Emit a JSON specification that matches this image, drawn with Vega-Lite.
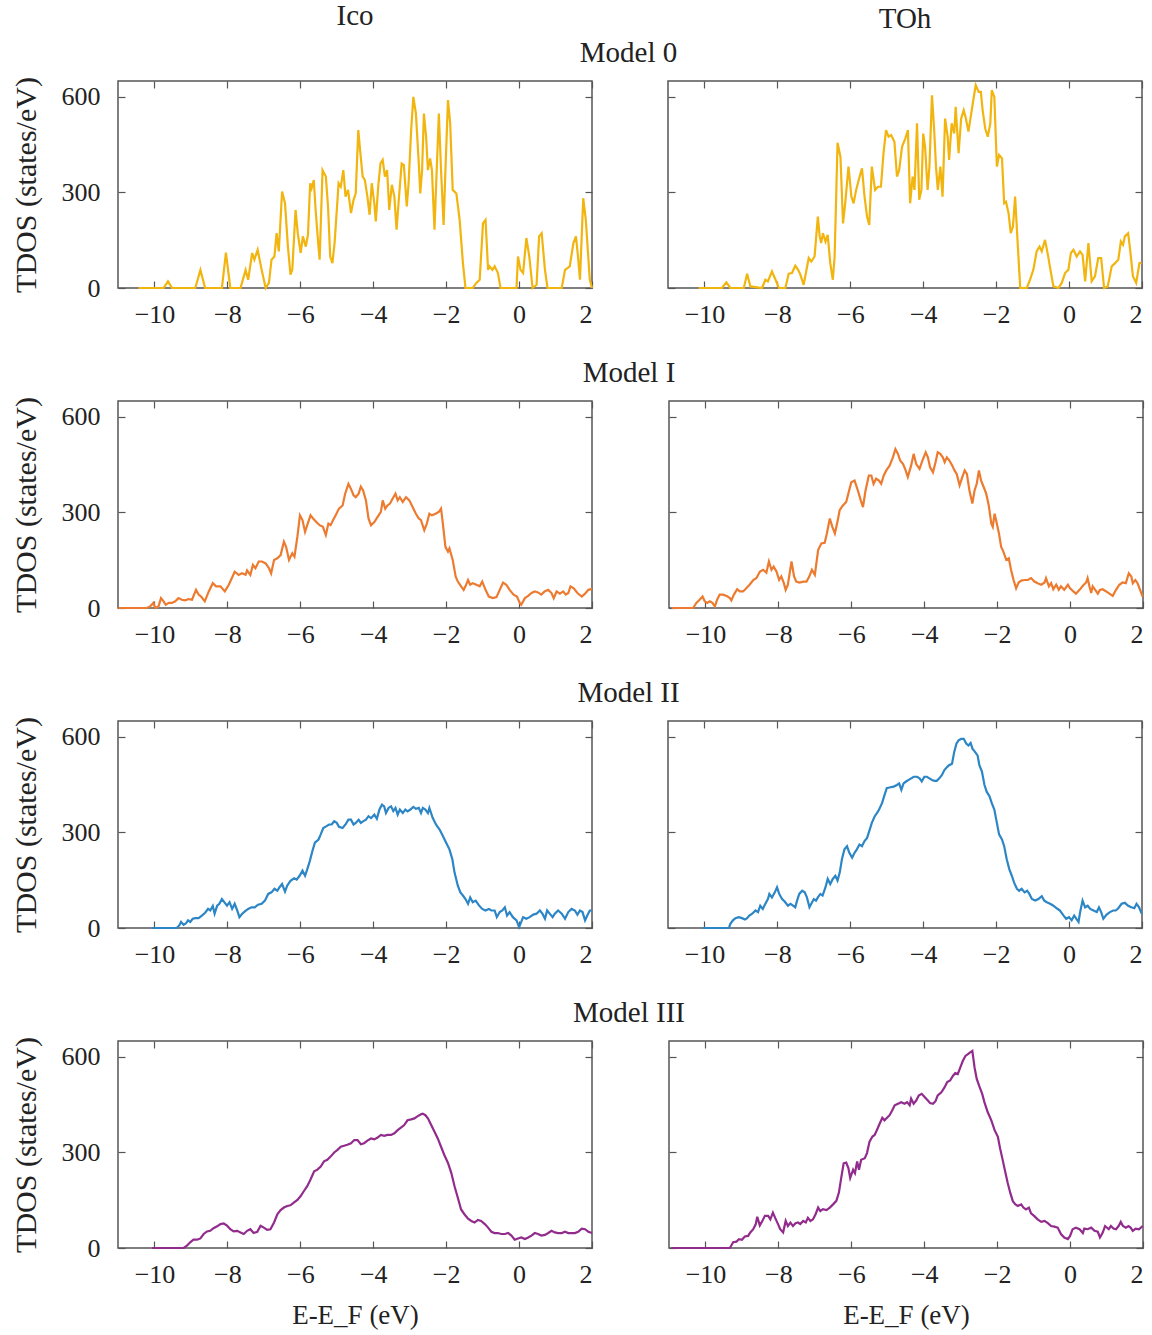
{
  "$schema": "https://vega.github.io/schema/vega-lite/v6.json",
  "padding": {"left": 10, "top": 0, "right": 0, "bottom": 2},
  "background": "white",
  "config": {
    "font": "Liberation Serif",
    "view": {"stroke": "#555555", "strokeWidth": 1.5},
    "axis": {"grid": false, "domain": false, "tickColor": "#555555", "tickWidth": 1.2, "tickSize": -7,
             "labelFont": "Liberation Serif", "labelFontSize": 26, "labelColor": "#222222",
             "titleFont": "Liberation Serif", "titleFontSize": 30, "titleFontWeight": "normal", "titleColor": "#222222"},
    "title": {"font": "Liberation Serif", "fontSize": 29, "fontWeight": "normal", "color": "#222222"},
    "line": {"strokeWidth": 2.2}
  },
  "datasets": {
    "i0": [{"x":-10.44,"y":0},{"x":-9.75,"y":0},{"x":-9.63,"y":21},{"x":-9.52,"y":0},{"x":-8.88,"y":0},{"x":-8.74,"y":57},{"x":-8.61,"y":0},{"x":-8.15,"y":0},{"x":-8.04,"y":111},{"x":-7.92,"y":0},{"x":-7.64,"y":0},{"x":-7.5,"y":57},{"x":-7.43,"y":26},{"x":-7.32,"y":110},{"x":-7.26,"y":89},{"x":-7.17,"y":120},{"x":-7.06,"y":57},{"x":-6.95,"y":0},{"x":-6.86,"y":16},{"x":-6.79,"y":89},{"x":-6.71,"y":99},{"x":-6.65,"y":172},{"x":-6.59,"y":115},{"x":-6.5,"y":303},{"x":-6.42,"y":266},{"x":-6.34,"y":130},{"x":-6.27,"y":42},{"x":-6.22,"y":57},{"x":-6.13,"y":245},{"x":-6.07,"y":172},{"x":-5.99,"y":110},{"x":-5.93,"y":162},{"x":-5.85,"y":130},{"x":-5.79,"y":167},{"x":-5.73,"y":329},{"x":-5.69,"y":313},{"x":-5.63,"y":339},{"x":-5.58,"y":245},{"x":-5.51,"y":141},{"x":-5.47,"y":89},{"x":-5.39,"y":370},{"x":-5.3,"y":350},{"x":-5.24,"y":256},{"x":-5.18,"y":99},{"x":-5.12,"y":78},{"x":-5.06,"y":141},{"x":-4.95,"y":329},{"x":-4.89,"y":318},{"x":-4.82,"y":370},{"x":-4.76,"y":287},{"x":-4.69,"y":308},{"x":-4.61,"y":235},{"x":-4.54,"y":276},{"x":-4.48,"y":297},{"x":-4.41,"y":496},{"x":-4.36,"y":433},{"x":-4.29,"y":350},{"x":-4.23,"y":339},{"x":-4.16,"y":287},{"x":-4.1,"y":230},{"x":-4.04,"y":329},{"x":-3.97,"y":266},{"x":-3.93,"y":209},{"x":-3.86,"y":324},{"x":-3.8,"y":391},{"x":-3.74,"y":402},{"x":-3.68,"y":350},{"x":-3.62,"y":370},{"x":-3.56,"y":245},{"x":-3.49,"y":324},{"x":-3.42,"y":287},{"x":-3.36,"y":183},{"x":-3.3,"y":276},{"x":-3.22,"y":391},{"x":-3.16,"y":386},{"x":-3.08,"y":256},{"x":-3.03,"y":329},{"x":-2.96,"y":496},{"x":-2.9,"y":600},{"x":-2.83,"y":548},{"x":-2.75,"y":391},{"x":-2.71,"y":297},{"x":-2.66,"y":370},{"x":-2.61,"y":548},{"x":-2.55,"y":475},{"x":-2.5,"y":370},{"x":-2.44,"y":407},{"x":-2.39,"y":370},{"x":-2.32,"y":183},{"x":-2.28,"y":308},{"x":-2.2,"y":548},{"x":-2.14,"y":370},{"x":-2.07,"y":198},{"x":-2.02,"y":370},{"x":-1.95,"y":590},{"x":-1.89,"y":517},{"x":-1.82,"y":308},{"x":-1.72,"y":297},{"x":-1.63,"y":214},{"x":-1.54,"y":78},{"x":-1.47,"y":0},{"x":-1.27,"y":0},{"x":-1.17,"y":16},{"x":-1.08,"y":26},{"x":-0.99,"y":203},{"x":-0.92,"y":214},{"x":-0.85,"y":57},{"x":-0.81,"y":68},{"x":-0.73,"y":57},{"x":-0.67,"y":68},{"x":-0.58,"y":47},{"x":-0.51,"y":0},{"x":-0.07,"y":0},{"x":-0.03,"y":99},{"x":0.04,"y":57},{"x":0.11,"y":47},{"x":0.2,"y":157},{"x":0.28,"y":99},{"x":0.37,"y":0},{"x":0.48,"y":10},{"x":0.55,"y":162},{"x":0.62,"y":172},{"x":0.71,"y":57},{"x":0.78,"y":0},{"x":1.17,"y":0},{"x":1.26,"y":57},{"x":1.39,"y":68},{"x":1.49,"y":141},{"x":1.56,"y":162},{"x":1.62,"y":94},{"x":1.67,"y":26},{"x":1.76,"y":282},{"x":1.83,"y":214},{"x":1.94,"y":26},{"x":2.0,"y":0}],
    "t0": [{"x":-10.16,"y":0},{"x":-9.52,"y":0},{"x":-9.4,"y":18},{"x":-9.29,"y":0},{"x":-8.92,"y":0},{"x":-8.83,"y":45},{"x":-8.74,"y":5},{"x":-8.42,"y":0},{"x":-8.33,"y":26},{"x":-8.26,"y":21},{"x":-8.21,"y":35},{"x":-8.15,"y":52},{"x":-8.05,"y":26},{"x":-7.96,"y":0},{"x":-7.78,"y":0},{"x":-7.69,"y":45},{"x":-7.6,"y":47},{"x":-7.51,"y":70},{"x":-7.43,"y":57},{"x":-7.37,"y":42},{"x":-7.28,"y":10},{"x":-7.14,"y":94},{"x":-7.07,"y":83},{"x":-6.98,"y":99},{"x":-6.89,"y":224},{"x":-6.84,"y":162},{"x":-6.8,"y":141},{"x":-6.75,"y":172},{"x":-6.68,"y":146},{"x":-6.62,"y":167},{"x":-6.55,"y":78},{"x":-6.48,"y":26},{"x":-6.43,"y":99},{"x":-6.35,"y":456},{"x":-6.27,"y":412},{"x":-6.2,"y":203},{"x":-6.14,"y":266},{"x":-6.05,"y":381},{"x":-5.97,"y":287},{"x":-5.91,"y":266},{"x":-5.84,"y":308},{"x":-5.77,"y":339},{"x":-5.68,"y":376},{"x":-5.61,"y":287},{"x":-5.54,"y":224},{"x":-5.48,"y":198},{"x":-5.41,"y":381},{"x":-5.32,"y":308},{"x":-5.24,"y":318},{"x":-5.16,"y":318},{"x":-5.09,"y":423},{"x":-5.02,"y":496},{"x":-4.95,"y":475},{"x":-4.88,"y":480},{"x":-4.79,"y":459},{"x":-4.72,"y":350},{"x":-4.66,"y":370},{"x":-4.58,"y":444},{"x":-4.49,"y":470},{"x":-4.42,"y":496},{"x":-4.36,"y":266},{"x":-4.29,"y":350},{"x":-4.24,"y":308},{"x":-4.17,"y":517},{"x":-4.11,"y":277},{"x":-4.05,"y":308},{"x":-4.0,"y":485},{"x":-3.95,"y":444},{"x":-3.88,"y":308},{"x":-3.83,"y":381},{"x":-3.76,"y":605},{"x":-3.7,"y":496},{"x":-3.65,"y":381},{"x":-3.6,"y":308},{"x":-3.53,"y":381},{"x":-3.47,"y":287},{"x":-3.4,"y":532},{"x":-3.33,"y":475},{"x":-3.29,"y":402},{"x":-3.22,"y":517},{"x":-3.15,"y":485},{"x":-3.11,"y":569},{"x":-3.03,"y":423},{"x":-2.96,"y":532},{"x":-2.89,"y":558},{"x":-2.83,"y":532},{"x":-2.76,"y":491},{"x":-2.69,"y":543},{"x":-2.62,"y":595},{"x":-2.56,"y":637},{"x":-2.48,"y":616},{"x":-2.42,"y":616},{"x":-2.37,"y":558},{"x":-2.3,"y":501},{"x":-2.23,"y":475},{"x":-2.16,"y":517},{"x":-2.12,"y":621},{"x":-2.05,"y":600},{"x":-1.98,"y":381},{"x":-1.92,"y":418},{"x":-1.84,"y":407},{"x":-1.78,"y":266},{"x":-1.73,"y":271},{"x":-1.66,"y":235},{"x":-1.6,"y":172},{"x":-1.54,"y":193},{"x":-1.48,"y":287},{"x":-1.41,"y":141},{"x":-1.34,"y":0},{"x":-1.16,"y":0},{"x":-1.07,"y":26},{"x":-0.98,"y":57},{"x":-0.89,"y":115},{"x":-0.81,"y":130},{"x":-0.75,"y":115},{"x":-0.66,"y":151},{"x":-0.58,"y":104},{"x":-0.52,"y":63},{"x":-0.43,"y":5},{"x":-0.29,"y":0},{"x":-0.2,"y":16},{"x":-0.11,"y":47},{"x":-0.02,"y":57},{"x":0.05,"y":110},{"x":0.12,"y":120},{"x":0.21,"y":99},{"x":0.3,"y":115},{"x":0.37,"y":104},{"x":0.44,"y":21},{"x":0.53,"y":141},{"x":0.62,"y":21},{"x":0.71,"y":37},{"x":0.8,"y":94},{"x":0.88,"y":94},{"x":0.96,"y":0},{"x":1.06,"y":5},{"x":1.17,"y":68},{"x":1.26,"y":78},{"x":1.35,"y":89},{"x":1.42,"y":146},{"x":1.48,"y":136},{"x":1.53,"y":162},{"x":1.62,"y":172},{"x":1.68,"y":115},{"x":1.75,"y":37},{"x":1.84,"y":16},{"x":1.93,"y":78},{"x":1.99,"y":80}],
    "i1": [{"x":-10.99,"y":0},{"x":-10.21,"y":0},{"x":-10.12,"y":5},{"x":-10.03,"y":16},{"x":-9.98,"y":0},{"x":-9.89,"y":5},{"x":-9.82,"y":31},{"x":-9.75,"y":21},{"x":-9.69,"y":10},{"x":-9.61,"y":16},{"x":-9.52,"y":16},{"x":-9.43,"y":21},{"x":-9.34,"y":31},{"x":-9.25,"y":26},{"x":-9.16,"y":24},{"x":-9.06,"y":28},{"x":-8.97,"y":26},{"x":-8.86,"y":57},{"x":-8.79,"y":42},{"x":-8.72,"y":36},{"x":-8.62,"y":21},{"x":-8.51,"y":52},{"x":-8.4,"y":78},{"x":-8.31,"y":68},{"x":-8.19,"y":68},{"x":-8.07,"y":52},{"x":-7.96,"y":73},{"x":-7.8,"y":114},{"x":-7.69,"y":104},{"x":-7.6,"y":109},{"x":-7.5,"y":104},{"x":-7.46,"y":118},{"x":-7.37,"y":104},{"x":-7.3,"y":135},{"x":-7.23,"y":125},{"x":-7.14,"y":146},{"x":-7.05,"y":146},{"x":-6.95,"y":140},{"x":-6.86,"y":125},{"x":-6.8,"y":109},{"x":-6.72,"y":151},{"x":-6.63,"y":156},{"x":-6.54,"y":166},{"x":-6.45,"y":208},{"x":-6.39,"y":192},{"x":-6.31,"y":151},{"x":-6.22,"y":172},{"x":-6.16,"y":161},{"x":-6.08,"y":224},{"x":-6.01,"y":291},{"x":-5.94,"y":276},{"x":-5.87,"y":239},{"x":-5.81,"y":260},{"x":-5.72,"y":291},{"x":-5.65,"y":281},{"x":-5.56,"y":270},{"x":-5.47,"y":260},{"x":-5.38,"y":255},{"x":-5.3,"y":229},{"x":-5.23,"y":265},{"x":-5.17,"y":260},{"x":-5.1,"y":276},{"x":-5.03,"y":291},{"x":-4.94,"y":312},{"x":-4.84,"y":322},{"x":-4.77,"y":359},{"x":-4.68,"y":390},{"x":-4.61,"y":374},{"x":-4.54,"y":354},{"x":-4.48,"y":348},{"x":-4.4,"y":359},{"x":-4.34,"y":381},{"x":-4.28,"y":370},{"x":-4.2,"y":338},{"x":-4.13,"y":281},{"x":-4.06,"y":260},{"x":-3.97,"y":270},{"x":-3.88,"y":286},{"x":-3.79,"y":302},{"x":-3.74,"y":338},{"x":-3.67,"y":312},{"x":-3.61,"y":322},{"x":-3.54,"y":328},{"x":-3.47,"y":343},{"x":-3.39,"y":359},{"x":-3.33,"y":338},{"x":-3.27,"y":348},{"x":-3.19,"y":333},{"x":-3.1,"y":348},{"x":-3.01,"y":338},{"x":-2.92,"y":317},{"x":-2.83,"y":296},{"x":-2.75,"y":281},{"x":-2.69,"y":276},{"x":-2.6,"y":244},{"x":-2.53,"y":265},{"x":-2.46,"y":296},{"x":-2.39,"y":291},{"x":-2.29,"y":296},{"x":-2.2,"y":302},{"x":-2.14,"y":312},{"x":-2.09,"y":265},{"x":-2.02,"y":192},{"x":-1.95,"y":177},{"x":-1.91,"y":187},{"x":-1.82,"y":151},{"x":-1.74,"y":99},{"x":-1.68,"y":83},{"x":-1.59,"y":68},{"x":-1.52,"y":57},{"x":-1.47,"y":68},{"x":-1.4,"y":88},{"x":-1.34,"y":73},{"x":-1.27,"y":78},{"x":-1.17,"y":73},{"x":-1.08,"y":68},{"x":-1.01,"y":83},{"x":-0.92,"y":57},{"x":-0.83,"y":36},{"x":-0.72,"y":31},{"x":-0.62,"y":34},{"x":-0.53,"y":57},{"x":-0.44,"y":80},{"x":-0.35,"y":73},{"x":-0.26,"y":57},{"x":-0.15,"y":42},{"x":-0.06,"y":36},{"x":0.02,"y":16},{"x":0.06,"y":10},{"x":0.16,"y":31},{"x":0.25,"y":38},{"x":0.34,"y":47},{"x":0.43,"y":52},{"x":0.52,"y":49},{"x":0.61,"y":42},{"x":0.7,"y":52},{"x":0.8,"y":57},{"x":0.89,"y":47},{"x":0.95,"y":31},{"x":1.03,"y":52},{"x":1.12,"y":45},{"x":1.21,"y":52},{"x":1.28,"y":42},{"x":1.35,"y":47},{"x":1.41,"y":68},{"x":1.5,"y":62},{"x":1.6,"y":47},{"x":1.72,"y":36},{"x":1.81,"y":45},{"x":1.9,"y":57},{"x":2.0,"y":60}],
    "t1": [{"x":-10.93,"y":0},{"x":-10.34,"y":0},{"x":-10.25,"y":16},{"x":-10.16,"y":26},{"x":-10.08,"y":36},{"x":-10.02,"y":21},{"x":-9.95,"y":16},{"x":-9.88,"y":21},{"x":-9.81,"y":16},{"x":-9.74,"y":5},{"x":-9.68,"y":26},{"x":-9.61,"y":42},{"x":-9.52,"y":42},{"x":-9.42,"y":38},{"x":-9.33,"y":31},{"x":-9.29,"y":24},{"x":-9.22,"y":42},{"x":-9.13,"y":59},{"x":-9.06,"y":52},{"x":-8.97,"y":52},{"x":-8.88,"y":62},{"x":-8.79,"y":73},{"x":-8.69,"y":88},{"x":-8.6,"y":94},{"x":-8.51,"y":114},{"x":-8.42,"y":120},{"x":-8.33,"y":111},{"x":-8.26,"y":146},{"x":-8.19,"y":120},{"x":-8.13,"y":130},{"x":-8.05,"y":114},{"x":-7.98,"y":88},{"x":-7.92,"y":99},{"x":-7.85,"y":78},{"x":-7.8,"y":57},{"x":-7.74,"y":73},{"x":-7.64,"y":146},{"x":-7.57,"y":99},{"x":-7.51,"y":83},{"x":-7.42,"y":80},{"x":-7.32,"y":83},{"x":-7.23,"y":83},{"x":-7.16,"y":97},{"x":-7.08,"y":120},{"x":-7.0,"y":104},{"x":-6.91,"y":182},{"x":-6.82,"y":203},{"x":-6.73,"y":205},{"x":-6.67,"y":234},{"x":-6.59,"y":281},{"x":-6.52,"y":255},{"x":-6.45,"y":234},{"x":-6.37,"y":276},{"x":-6.32,"y":307},{"x":-6.23,"y":322},{"x":-6.14,"y":333},{"x":-6.06,"y":369},{"x":-6.0,"y":395},{"x":-5.91,"y":400},{"x":-5.82,"y":369},{"x":-5.74,"y":338},{"x":-5.68,"y":317},{"x":-5.61,"y":369},{"x":-5.52,"y":416},{"x":-5.45,"y":416},{"x":-5.39,"y":390},{"x":-5.32,"y":406},{"x":-5.24,"y":400},{"x":-5.18,"y":390},{"x":-5.11,"y":416},{"x":-5.04,"y":432},{"x":-4.95,"y":447},{"x":-4.86,"y":473},{"x":-4.79,"y":499},{"x":-4.72,"y":484},{"x":-4.66,"y":463},{"x":-4.58,"y":452},{"x":-4.51,"y":432},{"x":-4.45,"y":411},{"x":-4.36,"y":447},{"x":-4.29,"y":484},{"x":-4.22,"y":452},{"x":-4.13,"y":437},{"x":-4.05,"y":463},{"x":-3.96,"y":489},{"x":-3.9,"y":473},{"x":-3.84,"y":442},{"x":-3.76,"y":426},{"x":-3.69,"y":458},{"x":-3.63,"y":489},{"x":-3.56,"y":484},{"x":-3.49,"y":473},{"x":-3.44,"y":458},{"x":-3.38,"y":473},{"x":-3.31,"y":463},{"x":-3.23,"y":447},{"x":-3.17,"y":432},{"x":-3.11,"y":421},{"x":-3.03,"y":385},{"x":-2.97,"y":406},{"x":-2.89,"y":432},{"x":-2.83,"y":421},{"x":-2.76,"y":369},{"x":-2.68,"y":328},{"x":-2.62,"y":369},{"x":-2.56,"y":390},{"x":-2.5,"y":432},{"x":-2.44,"y":400},{"x":-2.37,"y":380},{"x":-2.3,"y":359},{"x":-2.23,"y":322},{"x":-2.16,"y":265},{"x":-2.12,"y":255},{"x":-2.07,"y":296},{"x":-2.03,"y":276},{"x":-1.95,"y":234},{"x":-1.89,"y":192},{"x":-1.83,"y":177},{"x":-1.75,"y":151},{"x":-1.68,"y":156},{"x":-1.62,"y":120},{"x":-1.55,"y":88},{"x":-1.48,"y":62},{"x":-1.41,"y":80},{"x":-1.34,"y":86},{"x":-1.25,"y":88},{"x":-1.16,"y":88},{"x":-1.07,"y":94},{"x":-0.98,"y":83},{"x":-0.89,"y":78},{"x":-0.79,"y":73},{"x":-0.7,"y":80},{"x":-0.66,"y":94},{"x":-0.58,"y":68},{"x":-0.52,"y":78},{"x":-0.46,"y":59},{"x":-0.38,"y":73},{"x":-0.31,"y":57},{"x":-0.25,"y":68},{"x":-0.16,"y":57},{"x":-0.06,"y":73},{"x":0.0,"y":62},{"x":0.09,"y":52},{"x":0.16,"y":45},{"x":0.26,"y":57},{"x":0.35,"y":70},{"x":0.44,"y":80},{"x":0.48,"y":94},{"x":0.53,"y":68},{"x":0.58,"y":47},{"x":0.62,"y":68},{"x":0.69,"y":57},{"x":0.76,"y":45},{"x":0.82,"y":57},{"x":0.89,"y":59},{"x":0.99,"y":52},{"x":1.08,"y":45},{"x":1.17,"y":38},{"x":1.26,"y":57},{"x":1.35,"y":73},{"x":1.44,"y":80},{"x":1.53,"y":78},{"x":1.61,"y":109},{"x":1.68,"y":99},{"x":1.72,"y":78},{"x":1.79,"y":88},{"x":1.85,"y":78},{"x":1.92,"y":57},{"x":1.99,"y":36}],
    "i2": [{"x":-10.07,"y":0},{"x":-9.39,"y":0},{"x":-9.32,"y":8},{"x":-9.27,"y":19},{"x":-9.2,"y":10},{"x":-9.14,"y":14},{"x":-9.08,"y":24},{"x":-9.02,"y":19},{"x":-8.95,"y":29},{"x":-8.88,"y":31},{"x":-8.79,"y":31},{"x":-8.7,"y":39},{"x":-8.61,"y":48},{"x":-8.53,"y":60},{"x":-8.47,"y":55},{"x":-8.4,"y":69},{"x":-8.35,"y":45},{"x":-8.28,"y":70},{"x":-8.22,"y":76},{"x":-8.15,"y":91},{"x":-8.07,"y":79},{"x":-8.01,"y":70},{"x":-7.94,"y":81},{"x":-7.87,"y":60},{"x":-7.8,"y":76},{"x":-7.73,"y":55},{"x":-7.67,"y":34},{"x":-7.6,"y":44},{"x":-7.52,"y":52},{"x":-7.43,"y":60},{"x":-7.34,"y":65},{"x":-7.25,"y":65},{"x":-7.16,"y":73},{"x":-7.06,"y":76},{"x":-6.97,"y":86},{"x":-6.88,"y":107},{"x":-6.79,"y":112},{"x":-6.71,"y":123},{"x":-6.63,"y":117},{"x":-6.57,"y":128},{"x":-6.5,"y":138},{"x":-6.42,"y":114},{"x":-6.36,"y":133},{"x":-6.27,"y":148},{"x":-6.17,"y":156},{"x":-6.1,"y":152},{"x":-6.02,"y":164},{"x":-5.94,"y":180},{"x":-5.87,"y":164},{"x":-5.81,"y":184},{"x":-5.74,"y":210},{"x":-5.67,"y":241},{"x":-5.6,"y":268},{"x":-5.5,"y":278},{"x":-5.44,"y":294},{"x":-5.37,"y":314},{"x":-5.28,"y":320},{"x":-5.21,"y":325},{"x":-5.14,"y":325},{"x":-5.07,"y":335},{"x":-5.0,"y":330},{"x":-4.94,"y":318},{"x":-4.84,"y":314},{"x":-4.75,"y":327},{"x":-4.68,"y":340},{"x":-4.61,"y":340},{"x":-4.54,"y":325},{"x":-4.48,"y":330},{"x":-4.4,"y":340},{"x":-4.34,"y":330},{"x":-4.28,"y":335},{"x":-4.2,"y":340},{"x":-4.13,"y":351},{"x":-4.06,"y":345},{"x":-3.97,"y":356},{"x":-3.9,"y":343},{"x":-3.83,"y":372},{"x":-3.76,"y":387},{"x":-3.7,"y":382},{"x":-3.65,"y":361},{"x":-3.58,"y":377},{"x":-3.51,"y":382},{"x":-3.45,"y":367},{"x":-3.39,"y":377},{"x":-3.33,"y":356},{"x":-3.27,"y":372},{"x":-3.19,"y":361},{"x":-3.12,"y":372},{"x":-3.06,"y":366},{"x":-2.98,"y":372},{"x":-2.9,"y":380},{"x":-2.83,"y":374},{"x":-2.75,"y":377},{"x":-2.69,"y":361},{"x":-2.64,"y":377},{"x":-2.57,"y":372},{"x":-2.5,"y":361},{"x":-2.46,"y":377},{"x":-2.37,"y":346},{"x":-2.28,"y":325},{"x":-2.18,"y":309},{"x":-2.09,"y":289},{"x":-2.0,"y":268},{"x":-1.91,"y":247},{"x":-1.83,"y":216},{"x":-1.77,"y":174},{"x":-1.68,"y":133},{"x":-1.61,"y":112},{"x":-1.54,"y":102},{"x":-1.47,"y":91},{"x":-1.4,"y":76},{"x":-1.34,"y":96},{"x":-1.27,"y":81},{"x":-1.19,"y":86},{"x":-1.1,"y":71},{"x":-1.01,"y":60},{"x":-0.92,"y":55},{"x":-0.83,"y":60},{"x":-0.76,"y":55},{"x":-0.67,"y":55},{"x":-0.61,"y":34},{"x":-0.53,"y":50},{"x":-0.46,"y":55},{"x":-0.39,"y":65},{"x":-0.33,"y":39},{"x":-0.26,"y":50},{"x":-0.17,"y":34},{"x":-0.07,"y":24},{"x":0.0,"y":3},{"x":0.06,"y":19},{"x":0.11,"y":34},{"x":0.2,"y":29},{"x":0.29,"y":34},{"x":0.39,"y":42},{"x":0.48,"y":45},{"x":0.57,"y":55},{"x":0.64,"y":45},{"x":0.71,"y":29},{"x":0.77,"y":55},{"x":0.84,"y":45},{"x":0.92,"y":34},{"x":0.98,"y":45},{"x":1.07,"y":55},{"x":1.17,"y":45},{"x":1.26,"y":29},{"x":1.35,"y":50},{"x":1.44,"y":60},{"x":1.53,"y":55},{"x":1.6,"y":42},{"x":1.67,"y":55},{"x":1.74,"y":50},{"x":1.81,"y":24},{"x":1.87,"y":39},{"x":1.94,"y":55},{"x":2.0,"y":55}],
    "t2": [{"x":-10.06,"y":0},{"x":-9.33,"y":0},{"x":-9.29,"y":13},{"x":-9.22,"y":24},{"x":-9.15,"y":31},{"x":-9.06,"y":34},{"x":-8.97,"y":31},{"x":-8.89,"y":27},{"x":-8.83,"y":31},{"x":-8.77,"y":39},{"x":-8.69,"y":45},{"x":-8.6,"y":55},{"x":-8.53,"y":50},{"x":-8.47,"y":70},{"x":-8.4,"y":60},{"x":-8.33,"y":76},{"x":-8.26,"y":91},{"x":-8.22,"y":107},{"x":-8.15,"y":96},{"x":-8.07,"y":112},{"x":-8.01,"y":128},{"x":-7.95,"y":107},{"x":-7.87,"y":91},{"x":-7.8,"y":83},{"x":-7.71,"y":70},{"x":-7.64,"y":76},{"x":-7.57,"y":70},{"x":-7.51,"y":65},{"x":-7.46,"y":86},{"x":-7.4,"y":107},{"x":-7.32,"y":117},{"x":-7.25,"y":112},{"x":-7.19,"y":96},{"x":-7.12,"y":65},{"x":-7.07,"y":76},{"x":-7.0,"y":91},{"x":-6.94,"y":86},{"x":-6.89,"y":96},{"x":-6.82,"y":107},{"x":-6.76,"y":102},{"x":-6.68,"y":128},{"x":-6.62,"y":154},{"x":-6.55,"y":138},{"x":-6.48,"y":154},{"x":-6.41,"y":164},{"x":-6.35,"y":149},{"x":-6.29,"y":174},{"x":-6.23,"y":216},{"x":-6.16,"y":247},{"x":-6.09,"y":257},{"x":-6.03,"y":237},{"x":-5.95,"y":221},{"x":-5.88,"y":237},{"x":-5.82,"y":247},{"x":-5.75,"y":262},{"x":-5.68,"y":257},{"x":-5.61,"y":273},{"x":-5.54,"y":283},{"x":-5.48,"y":304},{"x":-5.41,"y":330},{"x":-5.33,"y":351},{"x":-5.27,"y":361},{"x":-5.21,"y":372},{"x":-5.13,"y":392},{"x":-5.06,"y":418},{"x":-5.0,"y":439},{"x":-4.9,"y":442},{"x":-4.81,"y":444},{"x":-4.72,"y":449},{"x":-4.66,"y":454},{"x":-4.6,"y":434},{"x":-4.54,"y":454},{"x":-4.47,"y":460},{"x":-4.4,"y":465},{"x":-4.33,"y":470},{"x":-4.26,"y":475},{"x":-4.17,"y":475},{"x":-4.1,"y":470},{"x":-4.04,"y":460},{"x":-3.97,"y":475},{"x":-3.9,"y":475},{"x":-3.83,"y":470},{"x":-3.76,"y":465},{"x":-3.69,"y":462},{"x":-3.63,"y":462},{"x":-3.56,"y":470},{"x":-3.49,"y":480},{"x":-3.42,"y":496},{"x":-3.34,"y":506},{"x":-3.29,"y":511},{"x":-3.21,"y":516},{"x":-3.15,"y":553},{"x":-3.09,"y":579},{"x":-3.03,"y":589},{"x":-2.96,"y":594},{"x":-2.89,"y":594},{"x":-2.82,"y":579},{"x":-2.76,"y":573},{"x":-2.7,"y":581},{"x":-2.65,"y":563},{"x":-2.58,"y":553},{"x":-2.51,"y":542},{"x":-2.46,"y":511},{"x":-2.39,"y":491},{"x":-2.32,"y":449},{"x":-2.26,"y":428},{"x":-2.18,"y":413},{"x":-2.12,"y":392},{"x":-2.05,"y":372},{"x":-1.98,"y":330},{"x":-1.92,"y":294},{"x":-1.84,"y":278},{"x":-1.78,"y":257},{"x":-1.71,"y":216},{"x":-1.64,"y":185},{"x":-1.57,"y":164},{"x":-1.51,"y":143},{"x":-1.43,"y":123},{"x":-1.37,"y":117},{"x":-1.3,"y":123},{"x":-1.22,"y":112},{"x":-1.15,"y":117},{"x":-1.09,"y":107},{"x":-1.02,"y":91},{"x":-0.93,"y":86},{"x":-0.84,"y":91},{"x":-0.75,"y":100},{"x":-0.68,"y":86},{"x":-0.61,"y":81},{"x":-0.52,"y":76},{"x":-0.43,"y":70},{"x":-0.34,"y":62},{"x":-0.25,"y":55},{"x":-0.15,"y":39},{"x":-0.08,"y":29},{"x":0.0,"y":34},{"x":0.07,"y":24},{"x":0.14,"y":39},{"x":0.21,"y":27},{"x":0.26,"y":19},{"x":0.3,"y":48},{"x":0.37,"y":86},{"x":0.44,"y":65},{"x":0.51,"y":70},{"x":0.58,"y":60},{"x":0.67,"y":55},{"x":0.76,"y":50},{"x":0.82,"y":65},{"x":0.88,"y":50},{"x":0.94,"y":29},{"x":1.03,"y":42},{"x":1.12,"y":50},{"x":1.21,"y":55},{"x":1.28,"y":55},{"x":1.35,"y":62},{"x":1.44,"y":76},{"x":1.53,"y":79},{"x":1.62,"y":70},{"x":1.71,"y":65},{"x":1.79,"y":62},{"x":1.85,"y":76},{"x":1.92,"y":65},{"x":1.99,"y":45}],
    "i3": [{"x":-10.07,"y":0},{"x":-9.2,"y":0},{"x":-9.11,"y":7},{"x":-9.02,"y":18},{"x":-8.93,"y":26},{"x":-8.83,"y":26},{"x":-8.74,"y":30},{"x":-8.65,"y":44},{"x":-8.56,"y":52},{"x":-8.47,"y":54},{"x":-8.38,"y":62},{"x":-8.28,"y":68},{"x":-8.19,"y":75},{"x":-8.1,"y":77},{"x":-8.01,"y":70},{"x":-7.92,"y":59},{"x":-7.83,"y":52},{"x":-7.73,"y":54},{"x":-7.64,"y":49},{"x":-7.55,"y":44},{"x":-7.46,"y":54},{"x":-7.37,"y":59},{"x":-7.28,"y":47},{"x":-7.18,"y":51},{"x":-7.09,"y":70},{"x":-7.0,"y":64},{"x":-6.91,"y":57},{"x":-6.82,"y":59},{"x":-6.72,"y":80},{"x":-6.63,"y":106},{"x":-6.54,"y":119},{"x":-6.45,"y":127},{"x":-6.36,"y":132},{"x":-6.27,"y":134},{"x":-6.17,"y":143},{"x":-6.08,"y":151},{"x":-5.99,"y":163},{"x":-5.9,"y":179},{"x":-5.81,"y":194},{"x":-5.72,"y":215},{"x":-5.62,"y":241},{"x":-5.53,"y":246},{"x":-5.44,"y":256},{"x":-5.35,"y":272},{"x":-5.26,"y":277},{"x":-5.17,"y":287},{"x":-5.07,"y":300},{"x":-4.98,"y":308},{"x":-4.89,"y":318},{"x":-4.8,"y":321},{"x":-4.71,"y":324},{"x":-4.61,"y":329},{"x":-4.52,"y":339},{"x":-4.43,"y":339},{"x":-4.34,"y":326},{"x":-4.25,"y":329},{"x":-4.16,"y":337},{"x":-4.06,"y":344},{"x":-3.97,"y":341},{"x":-3.88,"y":347},{"x":-3.79,"y":355},{"x":-3.7,"y":352},{"x":-3.61,"y":355},{"x":-3.51,"y":355},{"x":-3.42,"y":360},{"x":-3.33,"y":370},{"x":-3.24,"y":378},{"x":-3.15,"y":386},{"x":-3.06,"y":401},{"x":-2.96,"y":404},{"x":-2.87,"y":407},{"x":-2.78,"y":414},{"x":-2.69,"y":420},{"x":-2.64,"y":422},{"x":-2.57,"y":417},{"x":-2.5,"y":407},{"x":-2.41,"y":386},{"x":-2.32,"y":365},{"x":-2.23,"y":344},{"x":-2.14,"y":318},{"x":-2.05,"y":292},{"x":-1.95,"y":267},{"x":-1.86,"y":236},{"x":-1.77,"y":194},{"x":-1.68,"y":158},{"x":-1.59,"y":121},{"x":-1.5,"y":106},{"x":-1.4,"y":92},{"x":-1.31,"y":85},{"x":-1.22,"y":80},{"x":-1.13,"y":88},{"x":-1.04,"y":85},{"x":-0.94,"y":75},{"x":-0.85,"y":64},{"x":-0.76,"y":51},{"x":-0.67,"y":47},{"x":-0.58,"y":47},{"x":-0.49,"y":44},{"x":-0.39,"y":44},{"x":-0.3,"y":47},{"x":-0.21,"y":39},{"x":-0.12,"y":26},{"x":-0.03,"y":30},{"x":0.06,"y":33},{"x":0.16,"y":28},{"x":0.25,"y":33},{"x":0.34,"y":39},{"x":0.43,"y":47},{"x":0.52,"y":44},{"x":0.61,"y":39},{"x":0.71,"y":41},{"x":0.8,"y":47},{"x":0.89,"y":54},{"x":0.98,"y":49},{"x":1.07,"y":47},{"x":1.17,"y":47},{"x":1.26,"y":51},{"x":1.35,"y":47},{"x":1.44,"y":47},{"x":1.53,"y":47},{"x":1.62,"y":51},{"x":1.72,"y":61},{"x":1.81,"y":59},{"x":1.9,"y":51},{"x":2.0,"y":47}],
    "t3": [{"x":-10.93,"y":0},{"x":-9.33,"y":0},{"x":-9.24,"y":18},{"x":-9.15,"y":20},{"x":-9.08,"y":28},{"x":-9.0,"y":26},{"x":-8.92,"y":36},{"x":-8.83,"y":38},{"x":-8.77,"y":49},{"x":-8.69,"y":59},{"x":-8.62,"y":75},{"x":-8.58,"y":98},{"x":-8.51,"y":71},{"x":-8.44,"y":85},{"x":-8.37,"y":101},{"x":-8.28,"y":101},{"x":-8.22,"y":90},{"x":-8.15,"y":111},{"x":-8.07,"y":90},{"x":-8.01,"y":75},{"x":-7.95,"y":59},{"x":-7.87,"y":49},{"x":-7.8,"y":85},{"x":-7.74,"y":69},{"x":-7.67,"y":80},{"x":-7.6,"y":69},{"x":-7.53,"y":78},{"x":-7.46,"y":80},{"x":-7.4,"y":75},{"x":-7.32,"y":85},{"x":-7.25,"y":80},{"x":-7.19,"y":95},{"x":-7.12,"y":85},{"x":-7.05,"y":90},{"x":-6.98,"y":106},{"x":-6.91,"y":127},{"x":-6.85,"y":116},{"x":-6.78,"y":122},{"x":-6.68,"y":119},{"x":-6.59,"y":127},{"x":-6.5,"y":137},{"x":-6.41,"y":148},{"x":-6.34,"y":174},{"x":-6.27,"y":225},{"x":-6.21,"y":266},{"x":-6.14,"y":268},{"x":-6.08,"y":251},{"x":-6.03,"y":220},{"x":-5.95,"y":246},{"x":-5.9,"y":235},{"x":-5.84,"y":272},{"x":-5.79,"y":246},{"x":-5.73,"y":277},{"x":-5.63,"y":282},{"x":-5.57,"y":298},{"x":-5.5,"y":334},{"x":-5.42,"y":350},{"x":-5.36,"y":355},{"x":-5.3,"y":370},{"x":-5.22,"y":391},{"x":-5.15,"y":409},{"x":-5.09,"y":401},{"x":-5.02,"y":409},{"x":-4.95,"y":417},{"x":-4.88,"y":432},{"x":-4.81,"y":448},{"x":-4.72,"y":453},{"x":-4.63,"y":458},{"x":-4.54,"y":453},{"x":-4.47,"y":458},{"x":-4.4,"y":448},{"x":-4.36,"y":469},{"x":-4.29,"y":453},{"x":-4.22,"y":463},{"x":-4.15,"y":479},{"x":-4.07,"y":484},{"x":-3.99,"y":474},{"x":-3.9,"y":463},{"x":-3.84,"y":455},{"x":-3.76,"y":453},{"x":-3.69,"y":461},{"x":-3.63,"y":479},{"x":-3.53,"y":489},{"x":-3.44,"y":505},{"x":-3.37,"y":521},{"x":-3.29,"y":526},{"x":-3.21,"y":541},{"x":-3.15,"y":549},{"x":-3.08,"y":546},{"x":-3.01,"y":567},{"x":-2.94,"y":588},{"x":-2.87,"y":603},{"x":-2.8,"y":609},{"x":-2.74,"y":614},{"x":-2.68,"y":619},{"x":-2.62,"y":567},{"x":-2.56,"y":531},{"x":-2.48,"y":505},{"x":-2.41,"y":484},{"x":-2.35,"y":458},{"x":-2.26,"y":427},{"x":-2.16,"y":401},{"x":-2.07,"y":370},{"x":-1.98,"y":349},{"x":-1.92,"y":313},{"x":-1.84,"y":272},{"x":-1.77,"y":235},{"x":-1.71,"y":204},{"x":-1.64,"y":173},{"x":-1.57,"y":147},{"x":-1.5,"y":137},{"x":-1.43,"y":132},{"x":-1.34,"y":137},{"x":-1.28,"y":127},{"x":-1.21,"y":121},{"x":-1.13,"y":127},{"x":-1.07,"y":109},{"x":-0.98,"y":100},{"x":-0.89,"y":90},{"x":-0.79,"y":82},{"x":-0.7,"y":85},{"x":-0.61,"y":78},{"x":-0.52,"y":69},{"x":-0.43,"y":67},{"x":-0.34,"y":64},{"x":-0.25,"y":44},{"x":-0.16,"y":33},{"x":-0.06,"y":28},{"x":0.0,"y":38},{"x":0.07,"y":59},{"x":0.16,"y":64},{"x":0.26,"y":59},{"x":0.35,"y":47},{"x":0.39,"y":61},{"x":0.48,"y":59},{"x":0.58,"y":64},{"x":0.67,"y":54},{"x":0.76,"y":51},{"x":0.82,"y":33},{"x":0.89,"y":47},{"x":0.96,"y":69},{"x":1.06,"y":59},{"x":1.12,"y":69},{"x":1.19,"y":61},{"x":1.26,"y":59},{"x":1.33,"y":69},{"x":1.39,"y":82},{"x":1.45,"y":69},{"x":1.53,"y":64},{"x":1.6,"y":69},{"x":1.66,"y":64},{"x":1.72,"y":54},{"x":1.8,"y":61},{"x":1.89,"y":59},{"x":1.99,"y":69}]
  },
  "spacing": 30,
  "vconcat": [
    {
      "title": {"text": "Model 0", "anchor": "middle", "offset": -67, "dx": 50},
      "spacing": 68,
      "hconcat": [
        {"width": 474, "height": 207, "data": {"name": "i0"}, "title": {"text": "Ico", "anchor": "middle", "offset": 46},
         "resolve": {"axis": {"x": "independent", "y": "independent"}},
         "layer": [
           {"mark": {"type": "line", "color": "#F2B50F"},
            "encoding": {"x": {"field": "x", "type": "quantitative", "scale": {"domain": [-11, 2], "nice": false, "zero": false}, "axis": {"orient": "bottom", "values": [-10, -8, -6, -4, -2, 0, 2], "title": null, "labelPadding": 20}},
                         "y": {"field": "y", "type": "quantitative", "scale": {"domain": [0, 650], "nice": false}, "axis": {"orient": "left", "values": [0, 300, 600], "title": "TDOS (states/eV)", "labelPadding": 25, "titlePadding": 20}}}},
           {"mark": {"type": "line", "opacity": 0},
            "encoding": {"x": {"field": "x", "type": "quantitative", "scale": {"domain": [-11, 2], "nice": false, "zero": false}, "axis": {"orient": "top", "values": [-10, -8, -6, -4, -2, 0, 2], "labels": false, "title": null}},
                         "y": {"field": "y", "type": "quantitative", "scale": {"domain": [0, 650], "nice": false}, "axis": {"orient": "right", "values": [0, 300, 600], "labels": false, "title": null}}}}
         ]},
        {"width": 474, "height": 207, "data": {"name": "t0"}, "title": {"text": "TOh", "anchor": "middle", "offset": 46},
         "resolve": {"axis": {"x": "independent", "y": "independent"}},
         "layer": [
           {"mark": {"type": "line", "color": "#F2B50F"},
            "encoding": {"x": {"field": "x", "type": "quantitative", "scale": {"domain": [-11, 2], "nice": false, "zero": false}, "axis": {"orient": "bottom", "values": [-10, -8, -6, -4, -2, 0, 2], "title": null, "labelPadding": 20}},
                         "y": {"field": "y", "type": "quantitative", "scale": {"domain": [0, 650], "nice": false}, "axis": {"orient": "left", "values": [0, 300, 600], "labels": false, "title": null}}}},
           {"mark": {"type": "line", "opacity": 0},
            "encoding": {"x": {"field": "x", "type": "quantitative", "scale": {"domain": [-11, 2], "nice": false, "zero": false}, "axis": {"orient": "top", "values": [-10, -8, -6, -4, -2, 0, 2], "labels": false, "title": null}},
                         "y": {"field": "y", "type": "quantitative", "scale": {"domain": [0, 650], "nice": false}, "axis": {"orient": "right", "values": [0, 300, 600], "labels": false, "title": null}}}}
         ]}
      ]
    },
    {
      "title": {"text": "Model I", "anchor": "middle", "offset": 8, "dx": 50},
      "spacing": 68,
      "hconcat": [
        {"width": 474, "height": 207, "data": {"name": "i1"},
         "resolve": {"axis": {"x": "independent", "y": "independent"}},
         "layer": [
           {"mark": {"type": "line", "color": "#EC7B30"},
            "encoding": {"x": {"field": "x", "type": "quantitative", "scale": {"domain": [-11, 2], "nice": false, "zero": false}, "axis": {"orient": "bottom", "values": [-10, -8, -6, -4, -2, 0, 2], "title": null, "labelPadding": 20}},
                         "y": {"field": "y", "type": "quantitative", "scale": {"domain": [0, 650], "nice": false}, "axis": {"orient": "left", "values": [0, 300, 600], "title": "TDOS (states/eV)", "labelPadding": 25, "titlePadding": 20}}}},
           {"mark": {"type": "line", "opacity": 0},
            "encoding": {"x": {"field": "x", "type": "quantitative", "scale": {"domain": [-11, 2], "nice": false, "zero": false}, "axis": {"orient": "top", "values": [-10, -8, -6, -4, -2, 0, 2], "labels": false, "title": null}},
                         "y": {"field": "y", "type": "quantitative", "scale": {"domain": [0, 650], "nice": false}, "axis": {"orient": "right", "values": [0, 300, 600], "labels": false, "title": null}}}}
         ]},
        {"width": 474, "height": 207, "data": {"name": "t1"},
         "resolve": {"axis": {"x": "independent", "y": "independent"}},
         "layer": [
           {"mark": {"type": "line", "color": "#EC7B30"},
            "encoding": {"x": {"field": "x", "type": "quantitative", "scale": {"domain": [-11, 2], "nice": false, "zero": false}, "axis": {"orient": "bottom", "values": [-10, -8, -6, -4, -2, 0, 2], "title": null, "labelPadding": 20}},
                         "y": {"field": "y", "type": "quantitative", "scale": {"domain": [0, 650], "nice": false}, "axis": {"orient": "left", "values": [0, 300, 600], "labels": false, "title": null}}}},
           {"mark": {"type": "line", "opacity": 0},
            "encoding": {"x": {"field": "x", "type": "quantitative", "scale": {"domain": [-11, 2], "nice": false, "zero": false}, "axis": {"orient": "top", "values": [-10, -8, -6, -4, -2, 0, 2], "labels": false, "title": null}},
                         "y": {"field": "y", "type": "quantitative", "scale": {"domain": [0, 650], "nice": false}, "axis": {"orient": "right", "values": [0, 300, 600], "labels": false, "title": null}}}}
         ]}
      ]
    },
    {
      "title": {"text": "Model II", "anchor": "middle", "offset": 8, "dx": 50},
      "spacing": 68,
      "hconcat": [
        {"width": 474, "height": 207, "data": {"name": "i2"},
         "resolve": {"axis": {"x": "independent", "y": "independent"}},
         "layer": [
           {"mark": {"type": "line", "color": "#2C86C6"},
            "encoding": {"x": {"field": "x", "type": "quantitative", "scale": {"domain": [-11, 2], "nice": false, "zero": false}, "axis": {"orient": "bottom", "values": [-10, -8, -6, -4, -2, 0, 2], "title": null, "labelPadding": 20}},
                         "y": {"field": "y", "type": "quantitative", "scale": {"domain": [0, 650], "nice": false}, "axis": {"orient": "left", "values": [0, 300, 600], "title": "TDOS (states/eV)", "labelPadding": 25, "titlePadding": 20}}}},
           {"mark": {"type": "line", "opacity": 0},
            "encoding": {"x": {"field": "x", "type": "quantitative", "scale": {"domain": [-11, 2], "nice": false, "zero": false}, "axis": {"orient": "top", "values": [-10, -8, -6, -4, -2, 0, 2], "labels": false, "title": null}},
                         "y": {"field": "y", "type": "quantitative", "scale": {"domain": [0, 650], "nice": false}, "axis": {"orient": "right", "values": [0, 300, 600], "labels": false, "title": null}}}}
         ]},
        {"width": 474, "height": 207, "data": {"name": "t2"},
         "resolve": {"axis": {"x": "independent", "y": "independent"}},
         "layer": [
           {"mark": {"type": "line", "color": "#2C86C6"},
            "encoding": {"x": {"field": "x", "type": "quantitative", "scale": {"domain": [-11, 2], "nice": false, "zero": false}, "axis": {"orient": "bottom", "values": [-10, -8, -6, -4, -2, 0, 2], "title": null, "labelPadding": 20}},
                         "y": {"field": "y", "type": "quantitative", "scale": {"domain": [0, 650], "nice": false}, "axis": {"orient": "left", "values": [0, 300, 600], "labels": false, "title": null}}}},
           {"mark": {"type": "line", "opacity": 0},
            "encoding": {"x": {"field": "x", "type": "quantitative", "scale": {"domain": [-11, 2], "nice": false, "zero": false}, "axis": {"orient": "top", "values": [-10, -8, -6, -4, -2, 0, 2], "labels": false, "title": null}},
                         "y": {"field": "y", "type": "quantitative", "scale": {"domain": [0, 650], "nice": false}, "axis": {"orient": "right", "values": [0, 300, 600], "labels": false, "title": null}}}}
         ]}
      ]
    },
    {
      "title": {"text": "Model III", "anchor": "middle", "offset": 8, "dx": 50},
      "spacing": 68,
      "hconcat": [
        {"width": 474, "height": 207, "data": {"name": "i3"},
         "resolve": {"axis": {"x": "independent", "y": "independent"}},
         "layer": [
           {"mark": {"type": "line", "color": "#922C8C"},
            "encoding": {"x": {"field": "x", "type": "quantitative", "scale": {"domain": [-11, 2], "nice": false, "zero": false}, "axis": {"orient": "bottom", "values": [-10, -8, -6, -4, -2, 0, 2], "title": "E-E_F (eV)", "titleFontSize": 27, "labelPadding": 20, "titlePadding": 15}},
                         "y": {"field": "y", "type": "quantitative", "scale": {"domain": [0, 650], "nice": false}, "axis": {"orient": "left", "values": [0, 300, 600], "title": "TDOS (states/eV)", "labelPadding": 25, "titlePadding": 20}}}},
           {"mark": {"type": "line", "opacity": 0},
            "encoding": {"x": {"field": "x", "type": "quantitative", "scale": {"domain": [-11, 2], "nice": false, "zero": false}, "axis": {"orient": "top", "values": [-10, -8, -6, -4, -2, 0, 2], "labels": false, "title": null}},
                         "y": {"field": "y", "type": "quantitative", "scale": {"domain": [0, 650], "nice": false}, "axis": {"orient": "right", "values": [0, 300, 600], "labels": false, "title": null}}}}
         ]},
        {"width": 474, "height": 207, "data": {"name": "t3"},
         "resolve": {"axis": {"x": "independent", "y": "independent"}},
         "layer": [
           {"mark": {"type": "line", "color": "#922C8C"},
            "encoding": {"x": {"field": "x", "type": "quantitative", "scale": {"domain": [-11, 2], "nice": false, "zero": false}, "axis": {"orient": "bottom", "values": [-10, -8, -6, -4, -2, 0, 2], "title": "E-E_F (eV)", "titleFontSize": 27, "labelPadding": 20, "titlePadding": 15}},
                         "y": {"field": "y", "type": "quantitative", "scale": {"domain": [0, 650], "nice": false}, "axis": {"orient": "left", "values": [0, 300, 600], "labels": false, "title": null}}}},
           {"mark": {"type": "line", "opacity": 0},
            "encoding": {"x": {"field": "x", "type": "quantitative", "scale": {"domain": [-11, 2], "nice": false, "zero": false}, "axis": {"orient": "top", "values": [-10, -8, -6, -4, -2, 0, 2], "labels": false, "title": null}},
                         "y": {"field": "y", "type": "quantitative", "scale": {"domain": [0, 650], "nice": false}, "axis": {"orient": "right", "values": [0, 300, 600], "labels": false, "title": null}}}}
         ]}
      ]
    }
  ]
}
